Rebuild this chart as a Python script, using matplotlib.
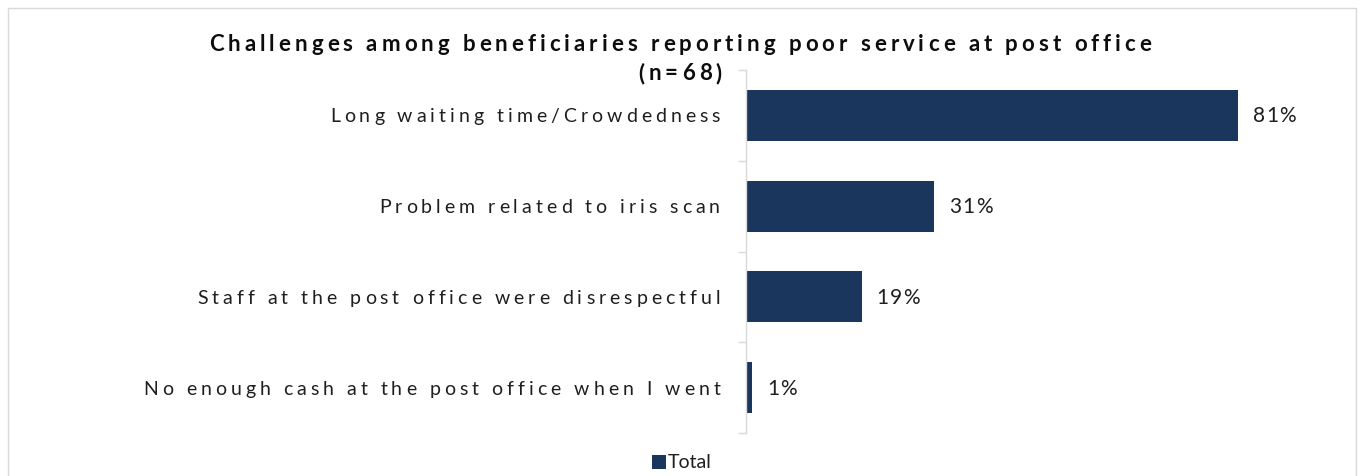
import matplotlib
matplotlib.use("Agg")
import matplotlib.pyplot as plt
from matplotlib.patches import Rectangle, Patch
from matplotlib.font_manager import FontProperties

categories = [
    "Long waiting time/Crowdedness",
    "Problem related to iris scan",
    "Staff at the post office were disrespectful",
    "No enough cash at the post office when I went",
]
values = [81, 31, 19, 1]
series_name = "Total"
title_lines = ["Challenges among beneficiaries reporting poor service at post office", "(n=68)"]

W, H = 1360, 476
BAR_COLOR = "#1b365d"
TEXT_COLOR = "#1f1f1f"
GRID_COLOR = "#d9d9d9"

plt.rcParams["font.family"] = ["Lato", "DejaVu Sans"]

fig = plt.figure(figsize=(W / 100, H / 100), dpi=100)
renderer = fig.canvas.get_renderer()


def px_to_fig(x, y):
    return x / W, 1 - y / H


def text_width(s, fp):
    w, _, _ = renderer.get_text_width_height_descent(s, fp, ismath=False)
    return w


def spaced_text(x, y, s, fp, spacing, ha="left", color=TEXT_COLOR):
    """Draw s with extra tracking between characters; x, y in pixels (y from top, baseline)."""
    bar_w = text_width("|", fp)
    offsets = [text_width(s[:i] + "|", fp) - bar_w + i * spacing for i in range(len(s))]
    total = text_width(s, fp) + (len(s) - 1) * spacing
    if ha == "right":
        x0 = x - total
    elif ha == "center":
        x0 = x - total / 2
    else:
        x0 = x
    for ch, off in zip(s, offsets):
        if ch == " ":
            continue
        fx, fy = px_to_fig(x0 + off, y)
        fig.text(fx, fy, ch, fontproperties=fp, color=color, ha="left", va="baseline")


# Outer frame
frame = Rectangle((8 / W, -0.1), (1356 - 8) / W, 1 - 8 / H + 0.1, transform=fig.transFigure,
                  fill=False, edgecolor=GRID_COLOR, linewidth=1.0)
fig.patches.append(frame)

# Plot area
ax_left, ax_right, ax_top, ax_bottom = 746, 1354, 70, 433
ax = fig.add_axes([ax_left / W, 1 - ax_bottom / H, (ax_right - ax_left) / W, (ax_bottom - ax_top) / H])
ax.set_facecolor("none")

ypos = list(range(len(categories)))
ax.barh(ypos, values, height=0.56, color=BAR_COLOR)
ax.set_xlim(0, 100)
ax.set_ylim(len(categories) - 0.5, -0.5)

for s in ["top", "right", "bottom"]:
    ax.spines[s].set_visible(False)
ax.spines["left"].set_color(GRID_COLOR)
ax.spines["left"].set_linewidth(1.0)
ax.set_xticks([])
ax.set_yticks([i - 0.5 for i in range(len(categories) + 1)])
ax.set_yticklabels([])
ax.tick_params(axis="y", length=6, width=1.0, color=GRID_COLOR, direction="out")

label_fp = FontProperties(family="Lato", size=14)
value_fp = FontProperties(family="Lato", size=15)
title_fp = FontProperties(family="Lato", size=16, weight="bold")

# Category labels and value labels
for i, (cat, v) in enumerate(zip(categories, values)):
    _, yc = ax.transData.transform((0, i))
    y_px = H - yc + 7
    spaced_text(ax_left - 26, y_px, cat, label_fp, 4.0, ha="right")
    xe, _ = ax.transData.transform((v, i))
    spaced_text(xe + 15, y_px, f"{v}%", value_fp, 1.0, ha="left")

# Title
spaced_text(680, 51, title_lines[0], title_fp, 4.0, ha="center", color="#0d0d0d")
spaced_text(680, 80, title_lines[1], title_fp, 4.0, ha="center", color="#0d0d0d")

# Legend
fig.legend(handles=[Patch(facecolor=BAR_COLOR, label=series_name)], loc="center",
           bbox_to_anchor=(682 / W, 1 - 463 / H), frameon=False, handlelength=0.7,
           handleheight=0.7, handletextpad=0.1, prop=FontProperties(family="Lato", size=14),
           labelcolor=TEXT_COLOR)

fig.savefig("out.png", dpi=100)
